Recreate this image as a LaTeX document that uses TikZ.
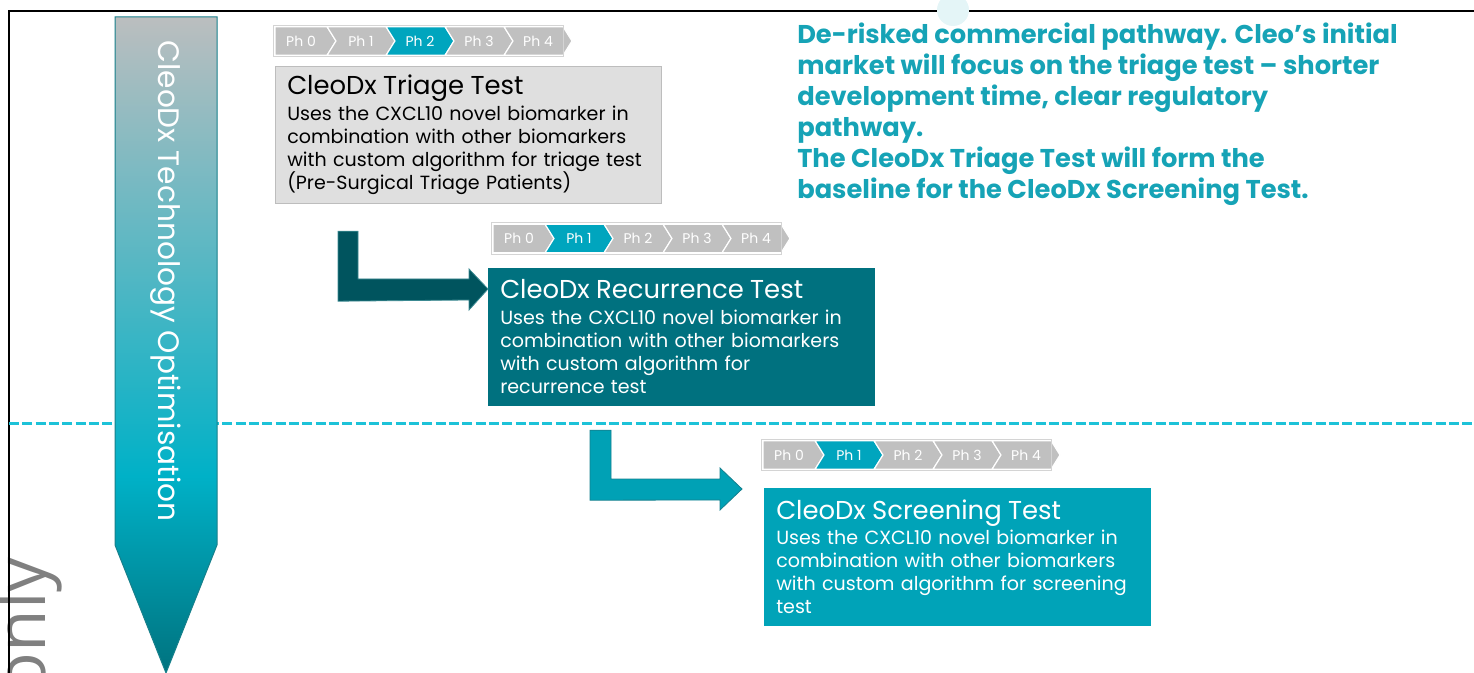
\documentclass[tikz,border=0pt]{standalone}
\usepackage{fontspec}
\setmainfont{Poppins}
\newfontfamily\markfont{Open Sans}
\usetikzlibrary{positioning,shapes.symbols}

\definecolor{phgrey}{HTML}{C0C0C0}
\definecolor{phteal}{HTML}{00A5BE}
\definecolor{phframe}{HTML}{D4D4D4}
\definecolor{triagefill}{HTML}{DFDFDF}
\definecolor{triageline}{HTML}{BDBDBD}
\definecolor{recurfill}{HTML}{00717F}
\definecolor{screenfill}{HTML}{00A3B8}
\definecolor{darkarrow}{HTML}{00545E}
\definecolor{darkarrowline}{HTML}{3C8A92}
\definecolor{tealarrow}{HTML}{00A1B5}
\definecolor{tealarrowline}{HTML}{14808E}
\definecolor{dashcyan}{HTML}{1DC2D8}
\definecolor{notecolor}{HTML}{16A3B6}
\definecolor{optgrey}{HTML}{BBBEBF}
\definecolor{optteal}{HTML}{00B1C7}
\definecolor{optdark}{HTML}{00737F}
\definecolor{optline}{HTML}{17808B}
\definecolor{bubble}{HTML}{E4F5F7}
\definecolor{markgrey}{HTML}{808080}

\pgfdeclareverticalshading{optshade}{100bp}{color(0bp)=(optdark); color(25bp)=(optdark); color(40bp)=(optteal); color(75bp)=(optgrey); color(100bp)=(optgrey)}

\tikzset{
  phase/.style={signal, signal to=east, signal pointer angle=116, draw=white, line width=0.9pt,
    minimum height=21.5pt, inner sep=0pt, outer sep=0pt, text=white, font=\fontsize{10.5}{12}\selectfont},
  testbox/.style={draw, rectangle, anchor=north west, text width=271.5pt, inner xsep=9pt,
    minimum height=102.5pt, align=left, font=\fontsize{14.3}{17.25}\selectfont},
  testtitle/.style={font=\fontsize{19.4}{20}\selectfont}
}

% one strip of phase chevrons: name, left x, middle y, active phase
\newcommand{\phaserow}[4]{%
  \foreach \i in {0,...,4}{
    \pgfmathsetmacro{\tipx}{#2+61+59*\i}
    \ifnum\i=#4 \def\phfill{phteal}\else\def\phfill{phgrey}\fi
    \ifnum\i=0 \def\phfrom{nowhere}\def\phw{61}\else\def\phfrom{west}\def\phw{68}\fi
    \node[phase, fill=\phfill, signal from=\phfrom, minimum width=\phw*0.75pt, anchor=east] (#1\i) at (\tipx,#3) {Ph \i};
  }
  \draw[phframe, line width=0.6pt] ([shift={(-1.5,-1.5)}]#10.north west) rectangle ([shift={(0,1.5)}]#14.south east);
}

\begin{document}
\begin{tikzpicture}[x=0.75pt, y=-0.75pt]
    \useasboundingbox (0,0) rectangle (1474,673);

    % Watermark and frame
    \node[rotate=90, anchor=base east, inner sep=0pt, text=markgrey, font=\markfont\fontsize{52}{60}\selectfont] (mark) at (45,557) {only};
    \draw[line width=1.5pt] (9,673) -- (9,11) -- (1474,11);
    \fill[bubble] (953,10) circle (16);

    % Divider
    \draw[dashcyan, line width=2.25pt, dash pattern=on 7.5pt off 2.5pt] (9,423) -- (1474,423);

    % Optimisation arrow
    \shade[shading=optshade, draw=optline, line width=0.75pt] (115,17) -- (217,17) -- (217,545) -- (166,673) -- (115,545) -- cycle;
    \node[rotate=-90, text=white, font=\fontsize{22.2}{24}\selectfont] (optlabel) at (166,281) {CleoDx Technology Optimisation};

    % Phase strips
    \phaserow{tri}{275}{41}{2}
    \phaserow{rec}{493}{238.5}{1}
    \phaserow{scr}{763}{455}{1}

    % Tests
    \node[testbox, draw=triageline, fill=triagefill, text=black] (triage) at (275,66)
      {{\fontsize{19.4}{20}\selectfont CleoDx Triage Test}\\[2pt]
       Uses the CXCL10 novel biomarker in\\
       combination with other biomarkers\\
       with custom algorithm for triage test\\
       (Pre-Surgical Triage Patients)};
    \node[testbox, draw=recurfill, fill=recurfill, text=white] (recur) at (488,268)
      {{\fontsize{19.4}{20}\selectfont CleoDx Recurrence Test}\\[2pt]
       Uses the CXCL10 novel biomarker in\\
       combination with other biomarkers\\
       with custom algorithm for\\
       recurrence test};
    \node[testbox, draw=screenfill, fill=screenfill, text=white] (screen) at (764,488)
      {{\fontsize{19.4}{20}\selectfont CleoDx Screening Test}\\[2pt]
       Uses the CXCL10 novel biomarker in\\
       combination with other biomarkers\\
       with custom algorithm for screening\\
       test};

    % Connections
    \draw[draw=darkarrowline, fill=darkarrow, line width=0.6pt] ([shift={(63,28)}]triage.south west) -- ++(20,0)
      |- ([shift={(-19,11)}]recur.north west) -- ++(0,-10) -- ([shift={(0,21)}]recur.north west)
      -- ([shift={(-19,42)}]recur.north west) -- ++(0,-10) -- ([shift={(63,98)}]triage.south west) -- cycle;
    \draw[draw=tealarrowline, fill=tealarrow, line width=0.6pt] ([shift={(102,25)}]recur.south west) -- ++(21,0)
      |- ([shift={(-44,-9)}]screen.north west) -- ++(0,-11) -- ([shift={(-22,1)}]screen.north west)
      -- ([shift={(-44,22)}]screen.north west) -- ++(0,-10) -- ([shift={(102,95)}]recur.south west) -- cycle;

    % Note
    \node[anchor=north west, inner sep=0pt, align=left, text=notecolor, font=\bfseries\fontsize{19.3}{23.25}\selectfont] (note) at (797,23)
      {De-risked commercial pathway. Cleo’s initial\\
       market will focus on the triage test – shorter\\
       development time, clear regulatory\\
       pathway.\\
       The CleoDx Triage Test will form the\\
       baseline for the CleoDx Screening Test.};
\end{tikzpicture}
\end{document}
